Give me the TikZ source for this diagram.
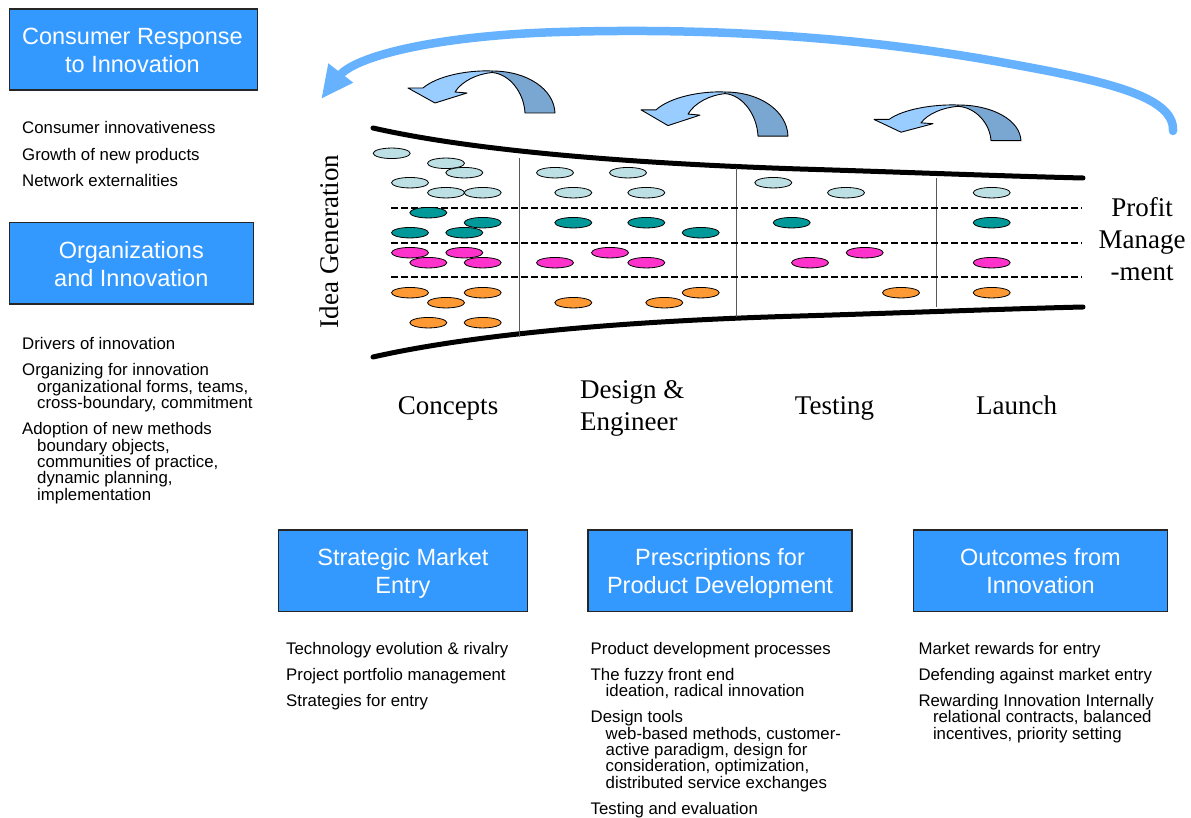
\documentclass[tikz,border=0pt]{standalone}
\usepackage{fontspec}
\setmainfont{Liberation Serif}
\setsansfont{Liberation Sans}
\usetikzlibrary{shapes.geometric}
\definecolor{boxblue}{RGB}{51,153,255}
\definecolor{arcblue}{RGB}{102,178,255}
\definecolor{curllightc}{RGB}{153,204,255}
\definecolor{curldarkc}{RGB}{122,166,210}
\definecolor{palecyan}{RGB}{188,224,228}
\definecolor{tealc}{RGB}{0,153,153}
\definecolor{magc}{RGB}{255,51,204}
\definecolor{orangec}{RGB}{255,153,51}
\tikzset{
  curl/.pic={
    \draw[fill=curldarkc, draw=black, line width=0.9pt, line join=round]
      (0,0) .. controls (35,0) and (62,18) .. (63,42) -- (33,42)
      .. controls (32,22) and (18,3) .. (0,1.5) -- cycle;
    \draw[fill=curllightc, draw=black, line width=0.9pt, line join=round]
      (0,0) .. controls (-25,-1) and (-55,5) .. (-69,17) -- (-84,17) -- (-57,32)
      -- (-25,22) -- (-37,21) .. controls (-30,10) and (-15,3) .. (0,1.5) -- cycle;
  }
}
\begin{document}
\begin{tikzpicture}[x=1pt,y=-1pt,
  tbox/.style={draw=black!85, line width=1.3pt, fill=boxblue, inner sep=0pt},
  ttext/.style={text=white, font=\sffamily\fontsize{23.5}{28}\selectfont, align=center, anchor=base, inner sep=0pt},
  ltext/.style={font=\sffamily\fontsize{16.8}{16.3}\selectfont, align=left, anchor=base west, inner sep=0pt},
  stext/.style={font=\fontsize{27}{32.5}\selectfont, inner sep=0pt, anchor=base},
  ell/.style={ellipse, draw=black, line width=0.8pt, minimum width=37pt, minimum height=10.5pt, inner sep=0pt},
  funnel/.style={line width=5pt, line cap=round},
  divider/.style={draw=black!65, line width=1.3pt},
  lane/.style={dash pattern=on 6.5pt off 3.5pt, line width=2pt},
  bigarc/.style={draw=arcblue, line width=8.5pt, line cap=round}
]
\useasboundingbox (0,0) rectangle (1191,818);

% ---------- title boxes (text nodes placed at the baseline of their last line) ----------
\node[tbox, minimum width=248pt, minimum height=81pt] (bcons) at (133.3,49.5) {};
\node[ttext] (tcons) at (132.5,73) {Consumer Response\\to Innovation};
\node[tbox, minimum width=244pt, minimum height=81.3pt] (borg) at (131.3,263.3) {};
\node[ttext] (torg) at (131.3,286.3) {Organizations\\and Innovation};
\node[tbox, minimum width=249pt, minimum height=81.7pt] (bstrat) at (402.9,570.8) {};
\node[ttext] (tstrat) at (402.9,593.5) {Strategic Market\\Entry};
\node[tbox, minimum width=264pt, minimum height=81.7pt] (bpres) at (720,570.8) {};
\node[ttext] (tpres) at (720,593.5) {Prescriptions for\\Product Development};
\node[tbox, minimum width=254.4pt, minimum height=81.7pt] (bout) at (1040.5,570.8) {};
\node[ttext] (tout) at (1040.5,593.5) {Outcomes from\\Innovation};

% ---------- lists ----------
\node[ltext] (lcons) at (22,186.6) {Consumer innovativeness\\[10pt]Growth of new products\\[10pt]Network externalities};
\node[ltext] (lorg) at (22,500) {Drivers of innovation\\[10pt]Organizing for innovation\\
\hspace*{15pt}organizational forms, teams,\\\hspace*{15pt}cross-boundary, commitment\\[10pt]
Adoption of new methods\\\hspace*{15pt}boundary objects,\\\hspace*{15pt}communities of practice,\\
\hspace*{15pt}dynamic planning,\\\hspace*{15pt}implementation};
\node[ltext] (lstrat) at (286,706.6) {Technology evolution \& rivalry\\[10pt]Project portfolio management\\[10pt]Strategies for entry};
\node[ltext] (lpres) at (590.5,814.4) {Product development processes\\[10pt]The fuzzy front end\\
\hspace*{15pt}ideation, radical innovation\\[10pt]Design tools\\
\hspace*{15pt}web-based methods, customer-\\\hspace*{15pt}active paradigm, design for\\
\hspace*{15pt}consideration, optimization,\\\hspace*{15pt}distributed service exchanges\\[10pt]
Testing and evaluation};
\node[ltext] (lout) at (918.3,739.2) {Market rewards for entry\\[10pt]Defending against market entry\\[10pt]
Rewarding Innovation Internally\\\hspace*{14.5pt}relational contracts, balanced\\\hspace*{14.5pt}incentives, priority setting};

% ---------- funnel ----------
\coordinate (ftl) at (373,128);
\coordinate (ftm) at (800,169);
\coordinate (ftr) at (1083,178);
\coordinate (fbl) at (373,357);
\coordinate (fbm) at (800,316);
\coordinate (fbr) at (1083,307);
\draw[funnel] (ftl) .. controls (470,150) and (620,163) .. (ftm) .. controls (900,172) and (1000,176) .. (ftr);
\draw[funnel] (fbl) .. controls (470,335) and (620,321) .. (fbm) .. controls (900,313) and (1000,309) .. (fbr);

\coordinate (d1t) at (519.3,158.3); \coordinate (d1b) at (519.3,336.7);
\coordinate (d2t) at (736.7,168.3); \coordinate (d2b) at (736.7,316.7);
\coordinate (d3t) at (936.7,178.3); \coordinate (d3b) at (936.7,306.7);
\draw[divider] (d1t) -- (d1b);
\draw[divider] (d2t) -- (d2b);
\draw[divider] (d3t) -- (d3b);

\coordinate (l1a) at (391,207.7); \coordinate (l1b) at (1082,207.7);
\coordinate (l2a) at (391,242.7); \coordinate (l2b) at (1082,242.7);
\coordinate (l3a) at (391,277.5); \coordinate (l3b) at (1082,277.5);
\draw[lane] (l1a) -- (l1b);
\draw[lane] (l2a) -- (l2b);
\draw[lane] (l3a) -- (l3b);

\foreach \p [count=\i] in {{391.7,153.3},{446,163.3},{464.3,172.7},{410,182.7},{446,192.7},{482.7,192.7},{555,172.7},{628,172.7},{573.3,192.7},{646.3,192.7},{773.3,182.7},{846,192.7},{991.7,192.7}}
  \node[ell, fill=palecyan] (lb\i) at (\p) {};
\foreach \p [count=\i] in {{428.3,212.7},{482.7,222.7},{410,232.7},{464.3,232.7},{573.3,222.7},{646.3,222.7},{700.7,232.7},{791.7,222.7},{991.7,222.7}}
  \node[ell, fill=tealc] (tl\i) at (\p) {};
\foreach \p [count=\i] in {{410,252.7},{464.3,252.7},{428.3,262.7},{482.7,262.7},{555,262.7},{610,252.7},{646.3,262.7},{864.7,252.7},{810,262.7},{991.7,262.7}}
  \node[ell, fill=magc] (mg\i) at (\p) {};
\foreach \p [count=\i] in {{410,292.7},{482.7,292.7},{446,302.7},{428.3,322.7},{482.7,322.7},{573.3,302.7},{664.3,302.7},{700.7,292.7},{901,292.7},{991.7,292.7}}
  \node[ell, fill=orangec] (or\i) at (\p) {};

% ---------- funnel labels ----------
\node[stext, rotate=90] (idea) at (338,241.5) {Idea Generation};
\node[stext] (concepts) at (448,414) {Concepts};
\node[stext, anchor=base west, align=left, font=\fontsize{27}{32}\selectfont] (design) at (580,430.5) {Design \&\\Engineer};
\node[stext] (testing) at (834.5,414) {Testing};
\node[stext] (launch) at (1016.5,414) {Launch};
\node[stext, align=center] (profit) at (1142,281) {Profit\\Manage\\-ment};

% ---------- curved arrows ----------
\pic at (492,71) {curl};
\pic[yscale=1.05] at (725,92) {curl};
\pic[yscale=0.85] at (958,105) {curl};

% ---------- big feedback arc ----------
\coordinate (arcstart) at (1173,131);
\coordinate (arcend) at (341,74);
\draw[bigarc] (arcstart) .. controls (1175,95) and (1100,80) .. (1000,62)
  .. controls (850,35) and (700,28) .. (560,32)
  .. controls (440,35.4) and (360,55) .. (arcend);
\coordinate (ahtip) at (321.7,98.3);
\coordinate (ahl) at (328.3,63.3);
\coordinate (ahr) at (353.3,82.7);
\fill[arcblue] (ahtip) -- (ahl) -- (ahr) -- cycle;
\end{tikzpicture}
\end{document}
